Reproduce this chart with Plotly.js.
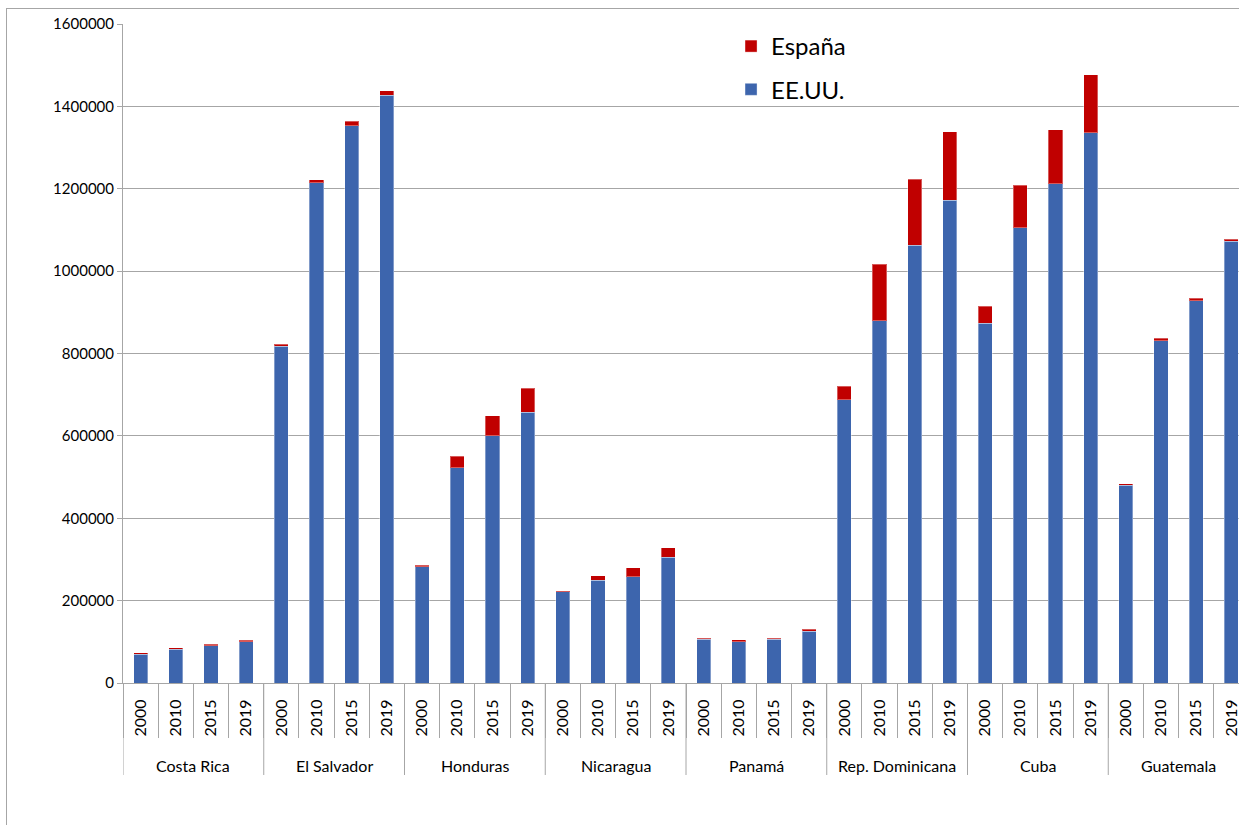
<!DOCTYPE html>
<html>
<head>
<meta charset="utf-8">
<script src="https://cdn.plot.ly/plotly-3.0.1.min.js"></script>
<style>
  html, body { margin:0; padding:0; overflow:hidden; background:#fff; width:1239px; height:825px; }
  #frame { position:absolute; left:6px; top:8px; width:1300px; height:900px; border:1px solid #a6a6a6; }
  #chart { position:absolute; left:0; top:0; width:1250px; height:830px; }
</style>
</head>
<body>
<div id="frame"><div id="chart"></div></div>
<script>
const countries = ['Costa Rica','El Salvador','Honduras','Nicaragua','Panamá','Rep. Dominicana','Cuba','Guatemala'];
const years = ['2000','2010','2015','2019'];
const eeuu = [70000, 81500, 90000, 100000,
              818000, 1215000, 1353000, 1427000,
              282000, 523000, 600000, 657000,
              221500, 250000, 258000, 305000,
              106000, 100000, 106000, 126000,
              688000, 880000, 1062500, 1172500,
              873000, 1105500, 1212000, 1336500,
              480000, 831000, 928000, 1072000];
const espana = [4000, 3500, 4000, 4000,
                5000, 6500, 11000, 10500,
                4000, 27500, 48500, 58500,
                3000, 11000, 22000, 23000,
                3000, 5500, 3000, 5000,
                33000, 136500, 161000, 166500,
                41500, 103500, 131000, 140000,
                4000, 6000, 6500, 6000];

// one category per bar: "country|year"; year shown as tick text
const cats = [], yearText = [];
countries.forEach(c => years.forEach(y => { cats.push(c + '|' + y); yearText.push(y); }));
const nY = years.length;

const FONT = 'Lato, "Open Sans", sans-serif';
const traces = [
  { type:'bar', name:'EE.UU.', legendgroup:'us', legendrank:2, x:cats, y:eeuu,
    marker:{ color:'#3d65ad', line:{ color:'rgba(255,255,255,0.35)', width:1 } } },
  { type:'bar', name:'España', legendgroup:'es', legendrank:1, x:cats, y:espana,
    marker:{ color:'#c00000', line:{ color:'rgba(255,255,255,0.35)', width:1 } } }
];

// group labels and dividers positioned on the category scale
const annotations = countries.map((c, k) => ({
  xref:'x', yref:'paper', x:k * nY + (nY - 1) / 2, y:-0.1245,
  text:c, showarrow:false, xanchor:'center', yanchor:'middle',
  font:{ size:16, family:FONT, color:'#000' }
}));
const shapes = [];
for (let k = 0; k <= countries.length; k++) {
  shapes.push({ type:'line', xref:'x', yref:'paper', x0:k * nY - 0.5, x1:k * nY - 0.5,
                y0:0, y1:-0.1396, line:{ color:'#a6a6a6', width:1 } });
}

const layout = {
  width:1250, height:830,
  margin:{ l:116, r:8, t:15, b:156 },
  paper_bgcolor:'#fff', plot_bgcolor:'#fff',
  barmode:'stack', bargap:0.6,
  font:{ family:FONT, color:'#000' },
  showlegend:true,
  legend:{ x:0.54, y:1.0, xanchor:'left', yanchor:'top', traceorder:'grouped',
           font:{ size:24, family:FONT, color:'#000' }, bgcolor:'rgba(0,0,0,0)', tracegroupgap:9 },
  xaxis:{ type:'category', range:[-0.5, cats.length - 0.5],
          tickmode:'array', tickvals:cats, ticktext:yearText,
          showline:true, linecolor:'#a6a6a6', linewidth:1,
          ticks:'outside', tickson:'boundaries', ticklen:54, tickcolor:'#a6a6a6',
          tickangle:-90, ticklabelstandoff:9,
          tickfont:{ size:16, family:FONT, color:'#000' }, showgrid:false },
  yaxis:{ range:[0,1600000], dtick:200000, tickformat:'d',
          showline:true, linecolor:'#a6a6a6', linewidth:1,
          ticks:'outside', ticklen:5, tickcolor:'#a6a6a6',
          gridcolor:'#a6a6a6', gridwidth:1, zeroline:false,
          tickfont:{ size:15, family:FONT, color:'#000' } },
  annotations:annotations,
  shapes:shapes
};

Plotly.newPlot('chart', traces, layout, { displayModeBar:false, staticPlot:true });
</script>
</body>
</html>
